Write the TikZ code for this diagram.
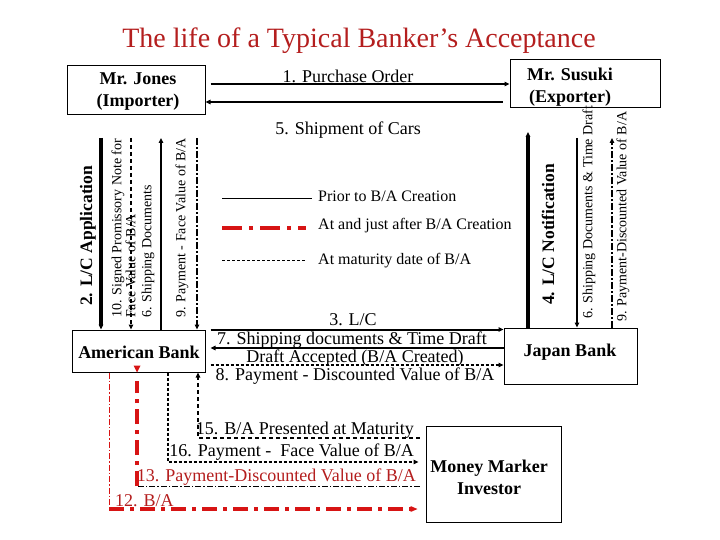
\documentclass[tikz,border=0pt]{standalone}
\usepackage{fontspec}
\setmainfont{Liberation Serif}
\usetikzlibrary{arrows.meta}
\definecolor{tred}{RGB}{180,30,30}
\definecolor{lred}{RGB}{215,20,20}
\begin{document}
\begin{tikzpicture}[x=1pt,y=-1pt,
  box/.style={draw, line width=1pt, inner sep=0pt},
  btxt/.style={font=\fontsize{18}{22}\selectfont\bfseries, align=center, inner sep=0pt},
  lbl/.style={font=\fontsize{18}{20}\selectfont, inner sep=0pt},
  lgd/.style={font=\fontsize{16}{18}\selectfont, inner sep=0pt, anchor=west},
  vlbl/.style={font=\fontsize{14}{11.5}\selectfont, rotate=90, anchor=west, align=left, inner sep=0pt},
  vbold/.style={font=\fontsize{17.5}{20}\selectfont\bfseries, rotate=90, anchor=west, inner sep=0pt},
  tip/.style={-{Triangle[length=5pt,width=4.5pt]}},
  thn/.style={line width=1.3pt},
  med/.style={line width=2pt},
  thk/.style={line width=3.5pt},
  dsh/.style={line width=1.3pt, dash pattern=on 3pt off 2pt},
  dshl/.style={line width=1.3pt, dash pattern=on 4pt off 3pt},
  ddot/.style={line width=1.5pt, dash pattern=on 7pt off 2pt on 2pt off 2pt},
  ddthin/.style={line width=1pt, dash pattern=on 6pt off 2pt on 1.5pt off 2pt},
  rdthick/.style={line width=4pt, color=lred, dash pattern=on 15pt off 6pt on 4pt off 6pt},
  rdthin/.style={line width=1pt, color=lred, dash pattern=on 6pt off 2pt on 1.5pt off 2pt}
]
\useasboundingbox (0,0) rectangle (720,540);

% title
\node[font=\fontsize{28}{32}\selectfont, text=tred, inner sep=0pt] (title) at (359,41) {The life of a Typical Banker’s Acceptance};

% boxes
\node[box, minimum width=138pt, minimum height=49pt] (jones) at (136,90.5) {};
\node[btxt] (jonesT) at (138,91.5) {Mr. Jones\\(Importer)};
\node[box, minimum width=150pt, minimum height=48pt] (susuki) at (585,84) {};
\node[btxt] (susukiT) at (570,87.5) {Mr. Susuki\\(Exporter)};
\node[box, minimum width=133pt, minimum height=42pt] (amb) at (138.5,351) {};
\node[btxt] (ambT) at (139,352) {American Bank};
\node[box, minimum width=133pt, minimum height=56pt] (jpb) at (570.5,356) {};
\node[btxt] (jpbT) at (570,352) {Japan Bank};
\node[box, minimum width=135pt, minimum height=96pt] (mmi) at (493.5,474) {};
\node[btxt] (mmiT) at (489,477) {Money Marker\\Investor};

% top arrows
\draw[med,tip] ([xshift=5pt]jones.east |- susuki.west) -- (susuki.west);
\draw[med,tip] ([xshift=-7pt,yshift=-11.5pt]jones.east -| susuki.west) -- ([yshift=-11.5pt]jones.east);
\node[lbl] (l1) at (348,76) {1. Purchase Order};
\node[lbl] (l5) at (348,130) {5. Shipment of Cars};

% left verticals
\coordinate (v2) at (101,138);
\coordinate (v10) at (131,138);
\coordinate (v6) at (161,138);
\coordinate (v9) at (197,138);
\draw[thk,tip] (v2) -- (v2 |- amb.north);
\draw[dshl,tip] (v10) -- (v10 |- amb.north);
\draw[thn,tip] (v6 |- amb.north) -- (v6);
\draw[ddot,tip] (v9) -- (v9 |- amb.north);
\node[vbold] (l2) at (88,306) {2. L/C Application};
\node[vlbl] (l10) at (123.5,318) {10. Signed Promissory Note for\\Face Value of B/A};
\node[vlbl] (l6) at (148,318) {6. Shipping Documents};
\node[vlbl] (l9) at (182,318) {9. Payment - Face Value of B/A};

% right verticals
\coordinate (v4) at (528,132);
\coordinate (v6r) at (577,138);
\coordinate (v9r) at (612,138);
\draw[thk,tip] (v4 |- jpb.north) -- (v4);
\draw[thn,tip] (v6r) -- (v6r |- jpb.north);
\draw[ddot,tip] (v9r |- jpb.north) -- (v9r);
\node[vbold] (l4) at (548,305) {4. L/C Notification};
\node[vlbl] (l6r) at (589,319) {6. Shipping Documents \& Time Draft};
\node[vlbl] (l9r) at (623,322) {9. Payment-Discounted Value of B/A};

% middle horizontals
\draw[med,tip] ([xshift=5pt]amb.north east) -- (amb.north east -| jpb.west);
\draw[med,tip] ([yshift=3pt]amb.east -| jpb.west) -- ([xshift=5pt,yshift=3pt]amb.east);
\draw[dsh,tip] ([xshift=5pt,yshift=-14pt]amb.east) -- ([yshift=-14pt]amb.east -| jpb.west);
\node[lbl] (l3) at (353,320) {3. L/C};
\node[lbl] (l7) at (352,340) {7. Shipping documents \& Time Draft};
\node[lbl] (l8a) at (355,358) {Draft Accepted (B/A Created)};
\node[lbl] (l8) at (355,376) {8. Payment - Discounted Value of B/A};

% legend
\coordinate (lg1) at (222,199);
\coordinate (lg2) at (222,228);
\coordinate (lg3) at (222,260);
\draw[line width=1pt] (lg1) -- ++(90,0);
\draw[rdthick, dash pattern=on 20pt off 7pt on 4pt off 7pt] (lg2) -- ++(84,0);
\draw[line width=1pt, dash pattern=on 3pt off 2pt] (lg3) -- ++(84,0);
\node[lgd] (lgt1) at (318,196) {Prior to B/A Creation};
\node[lgd] (lgt2) at (318,226) {At and just after B/A Creation};
\node[lgd] (lgt3) at (318,261) {At maturity date of B/A};

% bottom flows
\coordinate (b12) at (109,509);
\coordinate (b13) at (137,486);
\coordinate (b16) at (168,462);
\coordinate (b15) at (198,438);
\draw[rdthin] (b12 |- amb.south) -- (b12);
\draw[rdthick] (b12) -- ([xshift=-10pt]b12 -| mmi.west);
\fill[lred] ([xshift=-8pt]b12 -| mmi.west) -- ++(-7pt,-3pt) -- ++(0,6pt) -- cycle;
\draw[ddthin] ([xshift=-6pt]b13 -| mmi.west) -- (b13);
\draw[rdthick] (b13) -- ([yshift=-8pt]b13 |- amb.south);
\fill[lred] (b13 |- amb.south) -- ++(-3.5pt,7pt) -- ++(7pt,0) -- cycle;
\draw[dsh,tip] (b16 |- amb.south) -- (b16) -- ([xshift=-7pt]b16 -| mmi.west);
\draw[dshl,tip] ([xshift=-6pt]b15 -| mmi.west) -- (b15) -- (b15 |- amb.south);
\node[lbl, anchor=east] (l15) at (414,430) {15. B/A Presented at Maturity};
\node[lbl, anchor=east] (l16) at (414,452) {16. Payment -\ \ Face Value of B/A};
\node[lbl, anchor=east, text=tred] (l13) at (416,477) {13. Payment-Discounted Value of B/A};
\node[lbl, anchor=west, text=tred] (l12) at (115,501) {12. B/A};
\end{tikzpicture}
\end{document}
